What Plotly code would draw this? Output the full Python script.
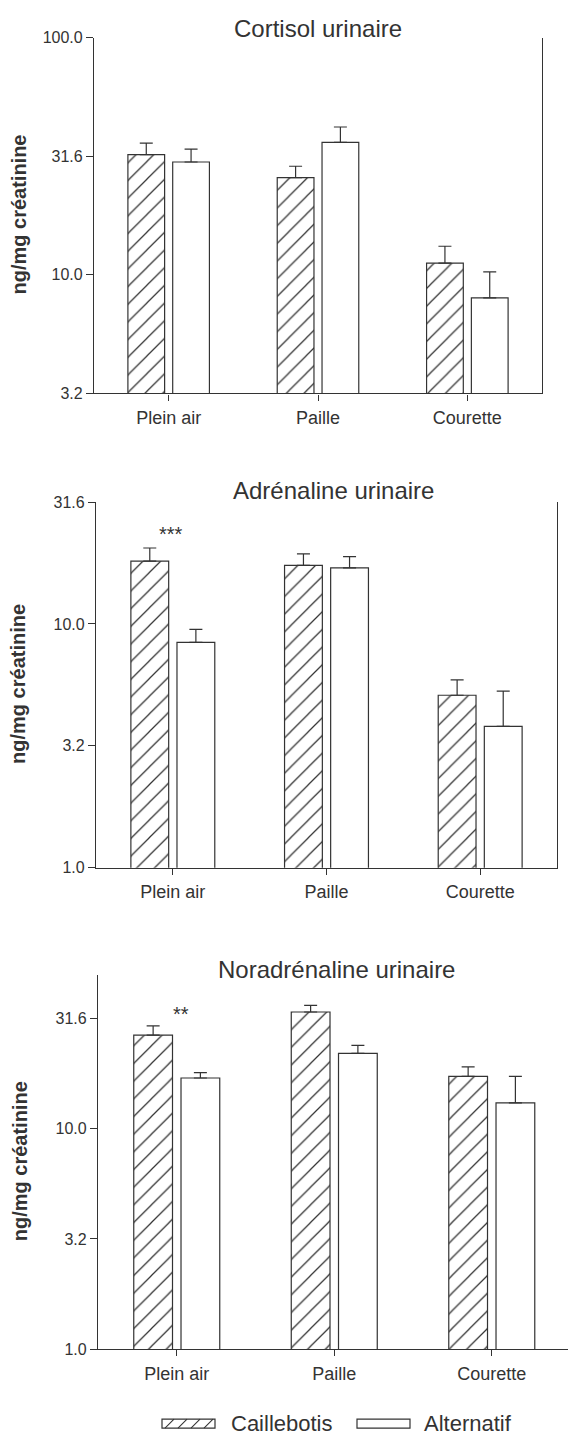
import math
import plotly.graph_objects as go

W, H = 568, 1444

# ---------------- data ----------------
categories = ["Plein air", "Paille", "Courette"]
series_names = ["Caillebotis", "Alternatif"]

cortisol_caillebotis = [32.1, 25.7, 11.2]
cortisol_caillebotis_err = [3.8, 3.0, 2.0]
cortisol_alternatif = [29.9, 36.2, 8.0]
cortisol_alternatif_err = [4.0, 5.8, 2.3]

adrenaline_caillebotis = [18.1, 17.4, 5.1]
adrenaline_caillebotis_err = [2.4, 2.0, 0.8]
adrenaline_alternatif = [8.4, 17.0, 3.8]
adrenaline_alternatif_err = [1.1, 1.9, 1.5]

noradrenaline_caillebotis = [26.6, 33.9, 17.3]
noradrenaline_caillebotis_err = [2.7, 2.4, 1.8]
noradrenaline_alternatif = [17.0, 22.0, 13.1]
noradrenaline_alternatif_err = [1.0, 1.9, 4.2]

panel_titles = ["Cortisol urinaire", "Adrénaline urinaire", "Noradrénaline urinaire"]
y_title = "ng/mg créatinine"

cortisol_tickvals = [3.1623, 10, 31.623, 100]
cortisol_ticktext = ["3.2", "10.0", "31.6", "100.0"]
catechol_tickvals = [1, 3.1623, 10, 31.623]
catechol_ticktext = ["1.0", "3.2", "10.0", "31.6"]

significance = [None, "***", "**"]
significance_y = [None, 23.5, 33.2]

# ---------------- style / layout ----------------
INK = "#333333"
FONT = "Liberation Sans, Arial, Helvetica, sans-serif"


def px(x):
    return min(1.0, max(0.0, x / W))


def py(y):
    return min(1.0, max(0.0, 1 - y / H))


# window-pixel boxes for each panel: (x0, x1, ytop, ybottom), log y ranges, x ranges
panels = [
    dict(box=(94, 542, 30, 390), yrange=[0.5, 2.0], xrange=[-0.5, 2.5],
         tv=cortisol_tickvals, tt=cortisol_ticktext, mirror=True,
         data=(cortisol_caillebotis, cortisol_caillebotis_err,
               cortisol_alternatif, cortisol_alternatif_err),
         title_xy=(318, 21), ytitle_xy=(19, 209)),
    dict(box=(96, 557, 500, 870), yrange=[0.0, 1.5], xrange=[-0.5, 2.5],
         tv=catechol_tickvals, tt=catechol_ticktext, mirror=True,
         data=(adrenaline_caillebotis, adrenaline_caillebotis_err,
               adrenaline_alternatif, adrenaline_alternatif_err),
         title_xy=(333, 488), ytitle_xy=(18, 684)),
    dict(box=(98, 568, 979, 1357), yrange=[0.0, 1.696], xrange=[-0.5, 2.484],
         tv=catechol_tickvals, tt=catechol_ticktext, mirror=False,
         data=(noradrenaline_caillebotis, noradrenaline_caillebotis_err,
               noradrenaline_alternatif, noradrenaline_alternatif_err),
         title_xy=(336, 973), ytitle_xy=(20, 1167)),
]

fig = go.Figure()
annotations = []
layout_axes = {}

for i, p in enumerate(panels, start=1):
    xa = "x" if i == 1 else f"x{i}"
    ya = "y" if i == 1 else f"y{i}"
    v1, e1, v2, e2 = p["data"]
    err_style = dict(type="data", symmetric=False, color=INK, thickness=1.2, width=6.5)
    fig.add_trace(go.Bar(
        x=categories, y=v1, name=series_names[0], xaxis=xa, yaxis=ya,
        offsetgroup="a", showlegend=False,
        marker=dict(color="white", line=dict(color=INK, width=1.2),
                    pattern=dict(shape="/", size=12.5, solidity=0.1,
                                 fgcolor=INK, bgcolor="white", fillmode="replace")),
        error_y=dict(array=e1, arrayminus=[0] * len(e1), **err_style),
    ))
    fig.add_trace(go.Bar(
        x=categories, y=v2, name=series_names[1], xaxis=xa, yaxis=ya,
        offsetgroup="b", showlegend=False,
        marker=dict(color="white", line=dict(color=INK, width=1.2)),
        error_y=dict(array=e2, arrayminus=[0] * len(e2), **err_style),
    ))

    x0, x1, yt, yb = p["box"]
    xkey = "xaxis" if i == 1 else f"xaxis{i}"
    ykey = "yaxis" if i == 1 else f"yaxis{i}"
    layout_axes[xkey] = dict(
        domain=[px(x0), px(x1)], range=p["xrange"], anchor=ya,
        showline=True, linecolor=INK, linewidth=1.2, showgrid=False, zeroline=False,
        ticks="outside", ticklen=6, tickwidth=1.2, tickcolor=INK,
        tickfont=dict(size=18, color=INK, family=FONT), ticklabelstandoff=2,
        fixedrange=True,
    )
    layout_axes[ykey] = dict(
        domain=[py(yb), py(yt)], type="log", range=p["yrange"], anchor=xa,
        showline=True, mirror=p["mirror"], linecolor=INK, linewidth=1.2,
        showgrid=False, zeroline=False,
        tickmode="array", tickvals=p["tv"], ticktext=p["tt"],
        ticks="outside", ticklen=7, tickwidth=1.2, tickcolor=INK,
        tickfont=dict(size=16, color=INK, family=FONT), fixedrange=True,
    )

    tx, ty = p["title_xy"]
    annotations.append(dict(
        text=panel_titles[i - 1], x=px(tx), y=py(ty), xref="paper", yref="paper",
        xanchor="center", yanchor="middle", showarrow=False,
        font=dict(size=24, color=INK, family=FONT)))
    yx, yy = p["ytitle_xy"]
    annotations.append(dict(
        text=f"<b>{y_title}</b>", x=px(yx), y=py(yy), xref="paper", yref="paper",
        xanchor="center", yanchor="middle", textangle=-90, showarrow=False,
        font=dict(size=20, color=INK, family=FONT)))

    if significance[i - 1]:
        annotations.append(dict(
            text=significance[i - 1], x=categories[0], y=math.log10(significance_y[i - 1]),
            xref=xa, yref=ya, xanchor="center", yanchor="middle", showarrow=False,
            xshift=-2 if i == 2 else 4,
            font=dict(size=20, color=INK, family=FONT)))

# ---------------- legend (drawn) ----------------
shapes = []
leg_y0, leg_y1 = 1428, 1437
box1 = (162, 215)
box2 = (357, 410)
for bx0, bx1 in (box1, box2):
    shapes.append(dict(type="rect", xref="paper", yref="paper",
                       x0=px(bx0), x1=px(bx1), y0=py(leg_y1), y1=py(leg_y0),
                       line=dict(color=INK, width=1.2), fillcolor="white", layer="above"))
for k in range(4):
    lx0 = box1[0] + 3 + 13 * k
    shapes.append(dict(type="line", xref="paper", yref="paper",
                       x0=px(lx0), x1=px(lx0 + 9), y0=py(leg_y1), y1=py(leg_y0),
                       line=dict(color=INK, width=1.1), layer="above"))
annotations.append(dict(text=series_names[0], x=px(229), y=py(1432), xref="paper", yref="paper",
                        xanchor="left", yanchor="middle", showarrow=False,
                        font=dict(size=22, color=INK, family=FONT)))
annotations.append(dict(text=series_names[1], x=px(422), y=py(1432), xref="paper", yref="paper",
                        xanchor="left", yanchor="middle", showarrow=False,
                        font=dict(size=22, color=INK, family=FONT)))

fig.update_layout(
    width=W, height=H, margin=dict(l=0, r=0, t=0, b=0),
    paper_bgcolor="white", plot_bgcolor="white",
    barmode="group", bargap=0.4, bargroupgap=0.18,
    font=dict(family=FONT, color=INK),
    annotations=annotations, shapes=shapes, showlegend=False,
    **layout_axes,
)

# remove the browser's default page margin so the figure fills the window exactly
fig.write_html("out.html", config={"displayModeBar": False},
               post_script="document.body.style.margin='0';")
